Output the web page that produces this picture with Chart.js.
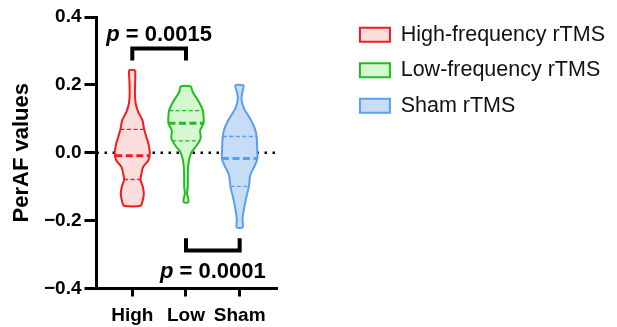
<!DOCTYPE html>
<html>
<head>
<meta charset="utf-8">
<script src="https://cdn.jsdelivr.net/npm/chart.js@4.4.1/dist/chart.umd.min.js"></script>
<style>
  html, body { margin: 0; padding: 0; background: #fff; }
  #wrap { width: 617px; height: 327px; }
</style>
</head>
<body>
<div id="wrap"><canvas id="c" width="617" height="327"></canvas></div>
<script>
// ---- data ---------------------------------------------------------------
const groups = ['High', 'Low', 'Sham'];
const seriesNames = ['High-frequency rTMS', 'Low-frequency rTMS', 'Sham rTMS'];
const yTicks = [-0.4, -0.2, 0.0, 0.2, 0.4];

// Violin outlines: PerAF levels (top to bottom) and relative density at each level
const highLevels  = [0.243, 0.215, 0.174, 0.145, 0.120, 0.096, 0.069, 0.045, 0.027, -0.002, -0.022, -0.042, -0.066, -0.079, -0.100, -0.120, -0.140, -0.156];
const highDensity = [0.17, 0.165, 0.15, 0.19, 0.34, 0.57, 0.67, 0.80, 0.91, 0.99, 0.91, 0.61, 0.50, 0.46, 0.59, 0.65, 0.59, 0.47];

const lowLevels  = [0.196, 0.179, 0.149, 0.125, 0.101, 0.086, 0.066, 0.045, 0.035, 0.017, 0.002, -0.022, -0.051, -0.100, -0.120, -0.135, -0.146];
const lowDensity = [0.29, 0.38, 0.74, 0.95, 1.00, 0.99, 0.80, 0.83, 0.77, 0.54, 0.31, 0.17, 0.11, 0.10, 0.06, 0.13, 0.13];

const shamLevels  = [0.199, 0.179, 0.159, 0.130, 0.101, 0.071, 0.046, 0.012, -0.017, -0.037, -0.066, -0.100, -0.135, -0.164, -0.194, -0.220];
const shamDensity = [0.24, 0.16, 0.10, 0.25, 0.59, 0.86, 0.96, 0.99, 1.00, 0.86, 0.60, 0.52, 0.36, 0.25, 0.16, 0.17];

// Q1, median, Q3
const highQuartiles = [-0.079, -0.009, 0.069];
const lowQuartiles  = [0.035, 0.087, 0.124];
const shamQuartiles = [-0.099, -0.017, 0.048];

// pairwise comparisons (group indices) and their p values
const comparisons = [[0, 1], [1, 2]];
const pValues = ['0.0015', '0.0001'];

// ---- styling --------------------------------------------------------------
const FONT = '"Liberation Sans", Arial, Helvetica, sans-serif';
const strokeColors = ['#f21c1c', '#1fbd1f', '#5b9ef0'];
const fillColors   = ['#fcdede', '#d5f8d1', '#c7dcf6'];
const X_MIN = -0.667, X_MAX = 2.713;
const HALF_WIDTH = 0.33;            // x-units of the widest violin half
const GAP_TO_LEGEND = 68;           // blank band between plot and legend (px)
// bracket and label placement for the comparisons: [bar, leg end, text baseline]
const bracketPlacement = [[0.307, 0.272, 0.330], [-0.288, -0.252, -0.370]];

Chart.defaults.font.family = FONT;
Chart.defaults.color = '#000';

const violinSets = [
  [highLevels, highDensity, highQuartiles],
  [lowLevels, lowDensity, lowQuartiles],
  [shamLevels, shamDensity, shamQuartiles]
];

function halfWidthAt(levels, dens, v) {
  for (let i = 0; i < levels.length - 1; i++) {
    const a = levels[i], b = levels[i + 1];
    if (v <= a && v >= b) {
      const t = (a - v) / (a - b);
      return dens[i] + t * (dens[i + 1] - dens[i]);
    }
  }
  return 0;
}

function outline(idx, levels, dens) {
  const right = levels.map((v, i) => ({x: idx + HALF_WIDTH * dens[i], y: v}));
  const left = levels.map((v, i) => ({x: idx - HALF_WIDTH * dens[i], y: v})).reverse();
  return right.concat(left, [right[0]]);
}

const datasets = [];

// violin bodies (first three datasets feed the legend)
violinSets.forEach(([levels, dens], i) => {
  datasets.push({
    label: seriesNames[i],
    data: outline(i, levels, dens),
    borderColor: strokeColors[i],
    backgroundColor: fillColors[i],
    borderWidth: 2,
    fill: 'shape',
    tension: 0.25,
    pointRadius: 0,
    order: 5
  });
});

// quartile and median lines across each violin
violinSets.forEach(([levels, dens, q], i) => {
  q.forEach((v, k) => {
    const hw = HALF_WIDTH * halfWidthAt(levels, dens, v);
    const isMedian = k === 1;
    datasets.push({
      label: 'q',
      data: [{x: i - hw, y: v}, {x: i + hw, y: v}],
      borderColor: strokeColors[i],
      borderWidth: isMedian ? 3 : 1.4,
      borderDash: isMedian ? [7, 3.5] : [4, 2.5],
      fill: false,
      pointRadius: 0,
      order: 1
    });
  });
});

// significance brackets
comparisons.forEach(([a, b], k) => {
  const [bar, leg] = bracketPlacement[k];
  datasets.push({
    label: 'bracket',
    data: [{x: a, y: leg}, {x: a, y: bar}, {x: b, y: bar}, {x: b, y: leg}],
    borderColor: '#000',
    borderWidth: 4,
    fill: false,
    pointRadius: 0,
    order: 1
  });
});

// dotted zero reference line
datasets.push({
  label: 'zero',
  data: [{x: X_MIN, y: 0}, {x: X_MAX, y: 0}],
  borderColor: '#000',
  borderWidth: 2.5,
  borderDash: [2.5, 5.5],
  fill: false,
  pointRadius: 0,
  order: 10
});

const pValueText = {
  id: 'pValueText',
  afterDatasetsDraw(chart) {
    const {ctx, scales: {x, y}} = chart;
    comparisons.forEach(([a, b], k) => {
      const cx = x.getPixelForValue((a + b) / 2);
      const cy = y.getPixelForValue(bracketPlacement[k][2]);
      const italic = 'italic bold 22px ' + FONT;
      const bold = 'bold 22px ' + FONT;
      const rest = ' = ' + pValues[k];
      ctx.save();
      ctx.fillStyle = '#000';
      ctx.textAlign = 'left';
      ctx.textBaseline = 'alphabetic';
      ctx.font = italic;
      const w1 = ctx.measureText('p').width;
      ctx.font = bold;
      const w2 = ctx.measureText(rest).width;
      const sx = cx - (w1 + w2) / 2;
      ctx.font = italic;
      ctx.fillText('p', sx, cy);
      ctx.font = bold;
      ctx.fillText(rest, sx + w1, cy);
      ctx.restore();
    });
  }
};

const fmt = v => (v < -1e-9 ? '\u2212' : '') + Math.abs(v).toFixed(1);

new Chart(document.getElementById('c'), {
  type: 'line',
  data: {datasets},
  options: {
    responsive: false,
    animation: false,
    events: [],
    layout: {padding: {top: 10, right: 2, bottom: 0, left: 0}},
    scales: {
      x: {
        type: 'linear',
        min: X_MIN,
        max: X_MAX,
        afterBuildTicks: s => { s.ticks = groups.map((g, i) => ({value: i})); },
        ticks: {
          callback: v => groups[Math.round(v)],
          font: {size: 19, weight: 'bold'},
          color: '#000',
          padding: 8,
          autoSkip: false,
          maxRotation: 0
        },
        grid: {display: true, drawOnChartArea: false, drawTicks: true, tickLength: 8, tickWidth: 3, tickColor: '#000'},
        border: {display: true, width: 3, color: '#000'},
        afterFit: s => { s.height = 38.5; }
      },
      y: {
        type: 'linear',
        min: -0.4,
        max: 0.4,
        afterBuildTicks: s => { s.ticks = yTicks.map(v => ({value: v})); },
        ticks: {callback: v => fmt(v), font: {size: 19, weight: 'bold'}, color: '#000', padding: 3},
        grid: {display: true, drawOnChartArea: false, drawTicks: true, tickLength: 12, tickWidth: 3, tickColor: '#000'},
        border: {display: true, width: 3, color: '#000'},
        title: {display: true, text: 'PerAF values', font: {size: 22, weight: 'bold'}, color: '#000', padding: {top: 9, bottom: 0}},
        afterFit: s => { s.width = 96.5; s.paddingTop = 17; }
      },
      gap: {
        type: 'linear',
        axis: 'y',
        position: 'right',
        display: true,
        ticks: {display: false},
        grid: {display: false},
        border: {display: false},
        afterFit: s => { s.width = GAP_TO_LEGEND; }
      }
    },
    plugins: {
      legend: {
        position: 'right',
        align: 'start',
        maxWidth: 320,
        labels: {
          boxWidth: 30,
          boxHeight: 14,
          padding: 14,
          font: {size: 21.5},
          color: '#111',
          filter: item => item.datasetIndex < 3
        }
      },
      tooltip: {enabled: false}
    }
  },
  plugins: [pValueText]
});
</script>
</body>
</html>
